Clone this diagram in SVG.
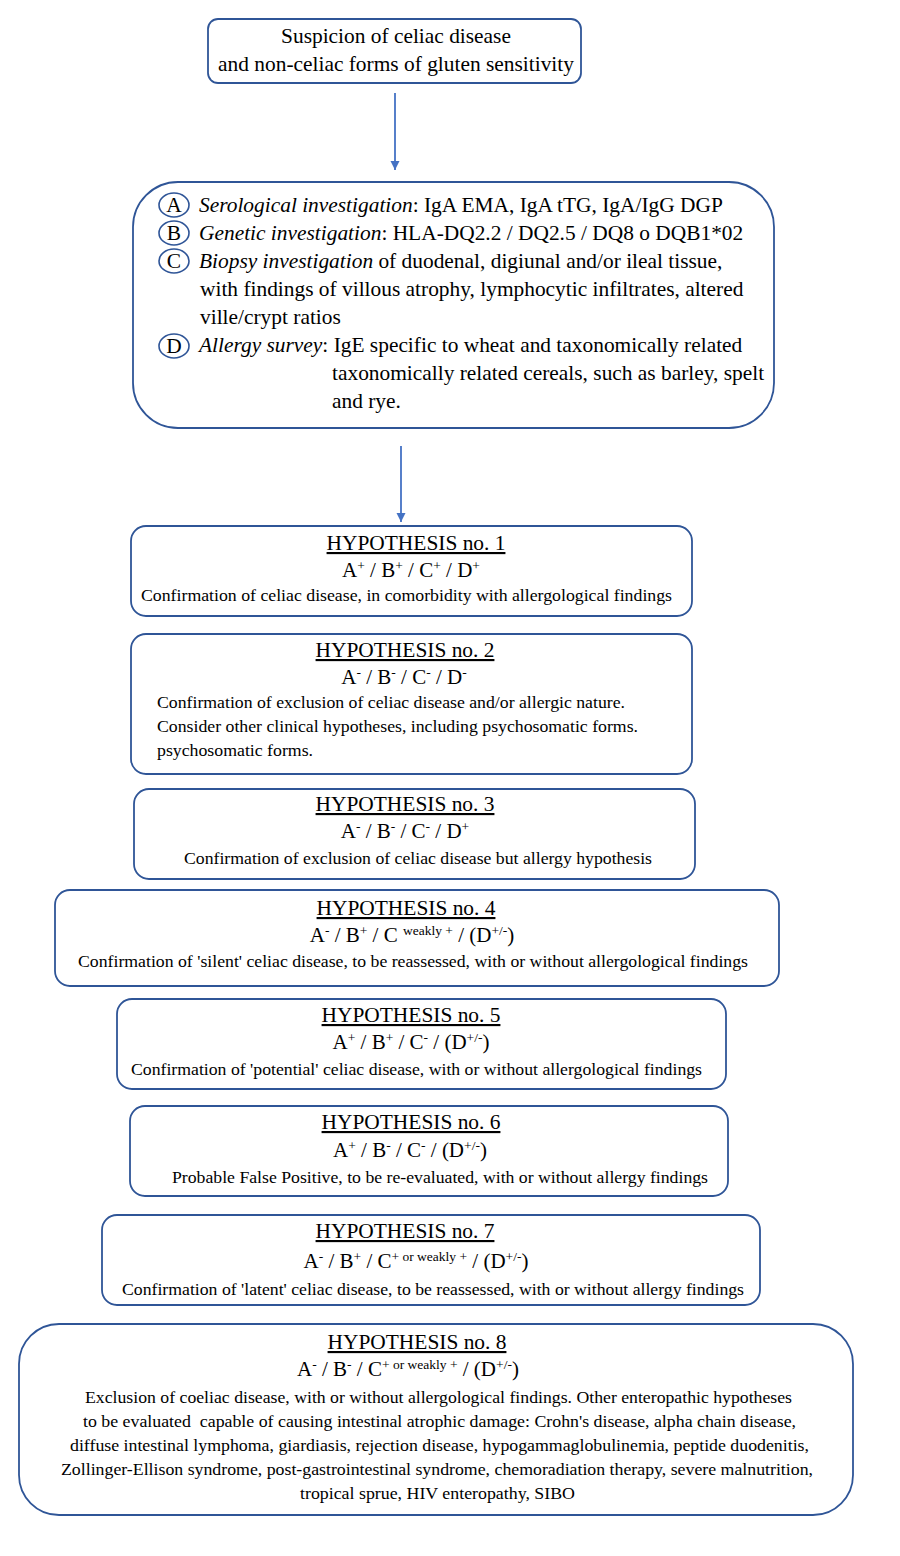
<svg xmlns="http://www.w3.org/2000/svg" width="900" height="1556" viewBox="0 0 900 1556">
<defs>
<style>
.box{fill:#fff;stroke:#2F5597;stroke-width:1.8}
.t{font-family:"Liberation Serif","Times New Roman",serif;fill:#000}
.h{font-size:21.4px;text-decoration:underline;text-anchor:middle}
.f{font-size:21px;text-anchor:middle}
.b{font-size:16px}
.m{text-anchor:middle}
.big{font-size:21.4px}
.c{fill:none;stroke:#2F5597;stroke-width:1.6}
.sup{font-size:13.5px}
.conn{stroke:#4472C4;stroke-width:1.8;fill:none}
</style>
<marker id="ah" markerWidth="12" markerHeight="12" refX="10" refY="6" orient="auto" markerUnits="userSpaceOnUse">
<path d="M1,1.5 L10,6 L1,10.5 Z" fill="#4472C4"/>
</marker>
</defs>
<rect width="900" height="1556" fill="#fff"/>

<g id="connectors">
<line class="conn" x1="395" y1="93" x2="395" y2="170" marker-end="url(#ah)"/>
<line class="conn" x1="401" y1="446" x2="401" y2="522" marker-end="url(#ah)"/>
</g>

<g id="start">
<rect class="box" x="208" y="19" width="373" height="64" rx="10"/>
<text class="t big m" x="396" y="43">Suspicion of celiac disease</text>
<text class="t big m" x="396" y="71">and non-celiac forms of gluten sensitivity</text>
</g>

<g id="investigations">
<rect class="box" x="133" y="182" width="641" height="246" rx="45"/>
<ellipse class="c" cx="174" cy="205" rx="15" ry="12"/>
<text class="t big m" x="174" y="212">A</text>
<ellipse class="c" cx="174" cy="233" rx="15" ry="12"/>
<text class="t big m" x="174" y="240">B</text>
<ellipse class="c" cx="174" cy="261" rx="15" ry="12"/>
<text class="t big m" x="174" y="268">C</text>
<ellipse class="c" cx="174" cy="346" rx="15" ry="12"/>
<text class="t big m" x="174" y="353">D</text>
<text class="t big" x="199" y="212"><tspan font-style="italic">Serological investigation</tspan>: IgA EMA, IgA tTG, IgA/IgG DGP</text>
<text class="t big" x="199" y="240"><tspan font-style="italic">Genetic investigation</tspan>: HLA-DQ2.2 / DQ2.5 / DQ8 o DQB1*02</text>
<text class="t big" x="199" y="268"><tspan font-style="italic">Biopsy investigation</tspan> of duodenal, digiunal and/or ileal tissue,</text>
<text class="t big" x="200" y="296">with findings of villous atrophy, lymphocytic infiltrates, altered</text>
<text class="t big" x="200" y="324">ville/crypt ratios</text>
<text class="t big" x="199" y="352"><tspan font-style="italic">Allergy survey</tspan>: IgE specific to wheat and taxonomically related</text>
<text class="t big" x="332" y="380">taxonomically related cereals, such as barley, spelt</text>
<text class="t big" x="332" y="408">and rye.</text>
</g>

<g id="h1">
<rect class="box" x="131" y="526" width="561" height="90" rx="15"/>
<text class="t h" x="416" y="550">HYPOTHESIS no. 1</text>
<text class="t f" x="411" y="577">A<tspan class="sup" dy="-7">+</tspan><tspan dy="7"> / B</tspan><tspan class="sup" dy="-7">+</tspan><tspan dy="7"> / C</tspan><tspan class="sup" dy="-7">+</tspan><tspan dy="7"> / D</tspan><tspan class="sup" dy="-7">+</tspan></text>
<text class="t b" x="141" y="601" textLength="531" lengthAdjust="spacingAndGlyphs">Confirmation of celiac disease, in comorbidity with allergological findings</text>
</g>

<g id="h2">
<rect class="box" x="131" y="634" width="561" height="140" rx="15"/>
<text class="t h" x="405" y="657">HYPOTHESIS no. 2</text>
<text class="t f" x="404" y="684">A<tspan class="sup" dy="-7">-</tspan><tspan dy="7"> / B</tspan><tspan class="sup" dy="-7">-</tspan><tspan dy="7"> / C</tspan><tspan class="sup" dy="-7">-</tspan><tspan dy="7"> / D</tspan><tspan class="sup" dy="-7">-</tspan></text>
<text class="t b" x="157" y="708" textLength="468" lengthAdjust="spacingAndGlyphs">Confirmation of exclusion of celiac disease and/or allergic nature.</text>
<text class="t b" x="157" y="732" textLength="481" lengthAdjust="spacingAndGlyphs">Consider other clinical hypotheses, including psychosomatic forms.</text>
<text class="t b" x="157" y="756" textLength="156" lengthAdjust="spacingAndGlyphs">psychosomatic forms.</text>
</g>

<g id="h3">
<rect class="box" x="134" y="789" width="561" height="90" rx="15"/>
<text class="t h" x="405" y="811">HYPOTHESIS no. 3</text>
<text class="t f" x="405" y="838">A<tspan class="sup" dy="-7">-</tspan><tspan dy="7"> / B</tspan><tspan class="sup" dy="-7">-</tspan><tspan dy="7"> / C</tspan><tspan class="sup" dy="-7">-</tspan><tspan dy="7"> / D</tspan><tspan class="sup" dy="-7">+</tspan></text>
<text class="t b" x="184" y="864" textLength="468" lengthAdjust="spacingAndGlyphs">Confirmation of exclusion of celiac disease but allergy hypothesis</text>
</g>

<g id="h4">
<rect class="box" x="55" y="890" width="724" height="96" rx="15"/>
<text class="t h" x="406" y="915">HYPOTHESIS no. 4</text>
<text class="t f" x="412" y="942">A<tspan class="sup" dy="-7">-</tspan><tspan dy="7"> / B</tspan><tspan class="sup" dy="-7">+</tspan><tspan dy="7"> / C </tspan><tspan class="sup" dy="-7">weakly +</tspan><tspan dy="7"> / (D</tspan><tspan class="sup" dy="-7">+/-</tspan><tspan dy="7">)</tspan></text>
<text class="t b" x="78" y="967" textLength="670" lengthAdjust="spacingAndGlyphs">Confirmation of 'silent' celiac disease, to be reassessed, with or without allergological findings</text>
</g>

<g id="h5">
<rect class="box" x="117" y="999" width="609" height="90" rx="15"/>
<text class="t h" x="411" y="1022">HYPOTHESIS no. 5</text>
<text class="t f" x="411" y="1049">A<tspan class="sup" dy="-7">+</tspan><tspan dy="7"> / B</tspan><tspan class="sup" dy="-7">+</tspan><tspan dy="7"> / C</tspan><tspan class="sup" dy="-7">-</tspan><tspan dy="7"> / (D</tspan><tspan class="sup" dy="-7">+/-</tspan><tspan dy="7">)</tspan></text>
<text class="t b" x="131" y="1075" textLength="571" lengthAdjust="spacingAndGlyphs">Confirmation of 'potential' celiac disease, with or without allergological findings</text>
</g>

<g id="h6">
<rect class="box" x="130" y="1106" width="598" height="90" rx="15"/>
<text class="t h" x="411" y="1129">HYPOTHESIS no. 6</text>
<text class="t f" x="410" y="1157">A<tspan class="sup" dy="-7">+</tspan><tspan dy="7"> / B</tspan><tspan class="sup" dy="-7">-</tspan><tspan dy="7"> / C</tspan><tspan class="sup" dy="-7">-</tspan><tspan dy="7"> / (D</tspan><tspan class="sup" dy="-7">+/-</tspan><tspan dy="7">)</tspan></text>
<text class="t b" x="172" y="1183" textLength="536" lengthAdjust="spacingAndGlyphs">Probable False Positive, to be re-evaluated, with or without allergy findings</text>
</g>

<g id="h7">
<rect class="box" x="102" y="1215" width="658" height="90" rx="15"/>
<text class="t h" x="405" y="1238">HYPOTHESIS no. 7</text>
<text class="t f" x="416" y="1268">A<tspan class="sup" dy="-7">-</tspan><tspan dy="7"> / B</tspan><tspan class="sup" dy="-7">+</tspan><tspan dy="7"> / C</tspan><tspan class="sup" dy="-7">+ or weakly +</tspan><tspan dy="7"> / (D</tspan><tspan class="sup" dy="-7">+/-</tspan><tspan dy="7">)</tspan></text>
<text class="t b" x="122" y="1295" textLength="622" lengthAdjust="spacingAndGlyphs">Confirmation of 'latent' celiac disease, to be reassessed, with or without allergy findings</text>
</g>

<g id="h8">
<rect class="box" x="19" y="1324" width="834" height="191" rx="40"/>
<text class="t h" x="417" y="1349">HYPOTHESIS no. 8</text>
<text class="t f" x="408" y="1376">A<tspan class="sup" dy="-7">-</tspan><tspan dy="7"> / B</tspan><tspan class="sup" dy="-7">-</tspan><tspan dy="7"> / C</tspan><tspan class="sup" dy="-7">+ or weakly +</tspan><tspan dy="7"> / (D</tspan><tspan class="sup" dy="-7">+/-</tspan><tspan dy="7">)</tspan></text>
<text class="t b" x="85" y="1403" textLength="707" lengthAdjust="spacingAndGlyphs">Exclusion of coeliac disease, with or without allergological findings. Other enteropathic hypotheses</text>
<text class="t b" x="83" y="1427" textLength="713" lengthAdjust="spacingAndGlyphs">to be evaluated&#160; capable of causing intestinal atrophic damage: Crohn's disease, alpha chain disease,</text>
<text class="t b" x="70" y="1451" textLength="739" lengthAdjust="spacingAndGlyphs">diffuse intestinal lymphoma, giardiasis, rejection disease, hypogammaglobulinemia, peptide duodenitis,</text>
<text class="t b" x="61" y="1475" textLength="752" lengthAdjust="spacingAndGlyphs">Zollinger-Ellison syndrome, post-gastrointestinal syndrome, chemoradiation therapy, severe malnutrition,</text>
<text class="t b" x="300" y="1499" textLength="275" lengthAdjust="spacingAndGlyphs">tropical sprue, HIV enteropathy, SIBO</text>
</g>
</svg>
